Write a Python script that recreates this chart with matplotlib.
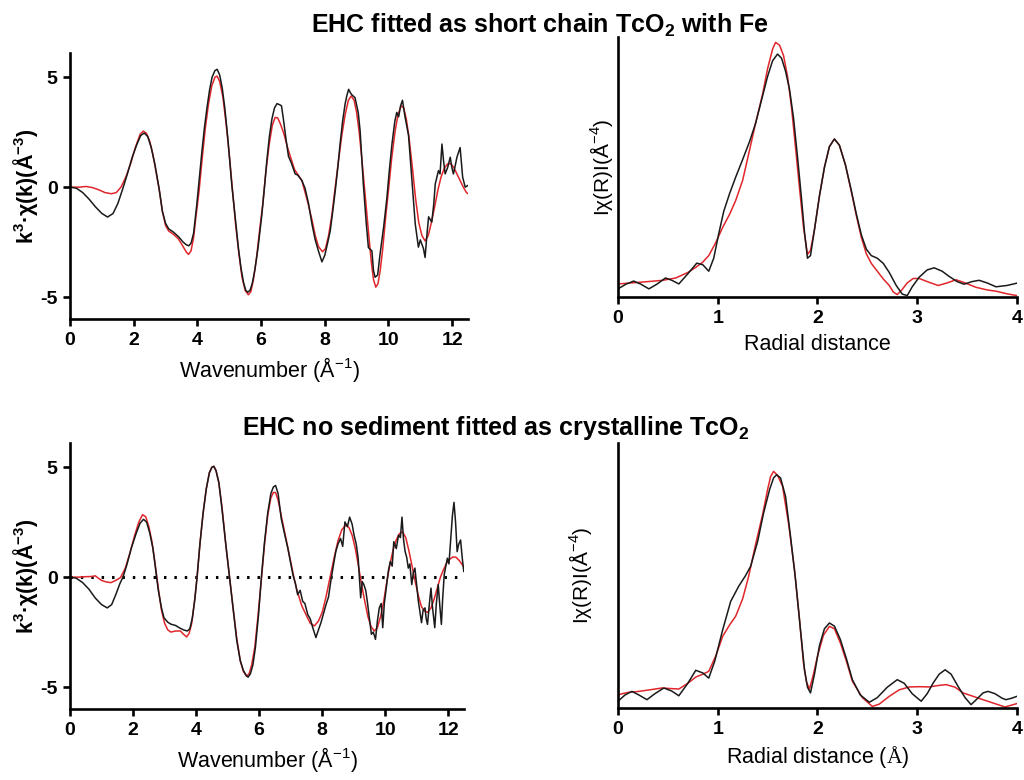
'''
EXAFS fits for EHC samples: k-space and Fourier transform panels.
'''

import matplotlib
matplotlib.use("Agg")
import matplotlib.pyplot as plt

plt.rcParams.update({
    "font.family": ["Liberation Sans", "DejaVu Sans"],
    "mathtext.fontset": "custom",
    "mathtext.rm": "Liberation Sans",
    "mathtext.bf": "Liberation Sans:bold",
    "mathtext.sf": "Liberation Serif",
    "axes.unicode_minus": False,
})

DATA_COLOR = "#1a1a1a"
FIT_COLOR = "#e0262b"

# --- top row: short chain TcO2 with Fe ---
K_TOP_DATA = [0, 0.2, 0.4, 0.6, 0.8, 1.0, 1.18, 1.35, 1.5, 1.65, 1.8, 1.95, 2.1, 2.22, 2.33, 2.44,
              2.55, 2.67, 2.8, 2.9, 3.0, 3.1, 3.25, 3.41, 3.55, 3.65, 3.73, 3.8, 3.88, 3.98, 4.06,
              4.14, 4.22, 4.3, 4.38, 4.46, 4.55, 4.62, 4.7, 4.78, 4.86, 4.95, 5.08, 5.18, 5.29,
              5.37, 5.45, 5.52, 5.58, 5.65, 5.72, 5.8, 5.9, 6.02, 6.1, 6.18, 6.26, 6.34, 6.42, 6.5,
              6.58, 6.64, 6.7, 6.78, 6.86, 6.95, 7.07, 7.15, 7.28, 7.38, 7.49, 7.6, 7.7, 7.8, 7.91,
              8.0, 8.08, 8.17, 8.25, 8.33, 8.41, 8.48, 8.56, 8.64, 8.7, 8.75, 8.8, 8.85, 8.95, 9.05,
              9.11, 9.21, 9.3, 9.37, 9.48, 9.53, 9.58, 9.66, 9.74, 9.85, 9.95, 10.03, 10.11, 10.2,
              10.26, 10.32, 10.38, 10.44, 10.52, 10.63, 10.73, 10.84, 10.94, 11.0, 11.05, 11.1,
              11.15, 11.2, 11.26, 11.36, 11.42, 11.47, 11.57, 11.62, 11.68, 11.73, 11.78, 11.86,
              11.94, 11.99, 12.04, 12.1, 12.15, 12.25, 12.33, 12.41, 12.5]
CHI_TOP_DATA = [0, -0.05, -0.25, -0.55, -0.9, -1.2, -1.36, -1.2, -0.75, -0.1, 0.6, 1.35, 1.95,
                2.35, 2.46, 2.3, 1.8, 1.0, -0.1, -1.1, -1.65, -1.9, -2.05, -2.26, -2.5, -2.62,
                -2.67, -2.55, -2.1, -0.8, 0.4, 1.6, 2.7, 3.6, 4.4, 5.0, 5.3, 5.36, 5.1, 4.5, 3.6,
                2.3, 0.1, -1.3, -2.8, -3.7, -4.35, -4.7, -4.78, -4.7, -4.4, -3.8, -2.8, -1.3, -0.1,
                1.2, 2.3, 3.1, 3.6, 3.8, 3.75, 3.7, 3.1, 2.2, 1.4, 1.1, 0.6, 0.55, 0.3, -0.05,
                -0.75, -1.7, -2.4, -2.9, -3.4, -3.1, -2.6, -2.0, -1.1, -0.15, 0.9, 1.96, 3.0, 3.8,
                4.2, 4.45, 4.3, 4.2, 4.07, 3.4, 2.56, 0.15, -1.6, -2.75, -2.9, -3.8, -4.1, -4.0,
                -3.0, -1.8, -0.5, 0.8, 1.96, 3.0, 3.4, 3.2, 3.7, 3.95, 3.2, 2.36, 0.45, -1.66,
                -2.73, -2.4, -2.6, -2.8, -3.2, -2.3, -1.35, -1.59, -0.8, 0.15, 0.75, 0.6, 1.96, 1.2,
                0.6, 0.9, 1.36, 0.9, 0.6, 1.0, 1.36, 1.8, 0.45, 0.0, 0.08]

K_TOP_FIT = [0, 0.3, 0.5, 0.7, 0.9, 1.1, 1.3, 1.45, 1.6, 1.75, 1.9, 2.05, 2.2, 2.3, 2.4, 2.5,
             2.6, 2.7, 2.8, 2.9, 3.0, 3.1, 3.25, 3.4, 3.55, 3.65, 3.72, 3.8, 3.88, 3.95, 4.05,
             4.15, 4.25, 4.35, 4.45, 4.55, 4.62, 4.7, 4.8, 4.9, 5.0, 5.1, 5.2, 5.3, 5.4, 5.5, 5.6,
             5.68, 5.76, 5.85, 5.95, 6.05, 6.15, 6.25, 6.35, 6.44, 6.52, 6.6, 6.7, 6.86, 7.05,
             7.28, 7.45, 7.6, 7.7, 7.8, 7.93, 8.02, 8.12, 8.22, 8.32, 8.43, 8.54, 8.64, 8.74,
             8.83, 8.92, 9.0, 9.08, 9.17, 9.27, 9.37, 9.46, 9.53, 9.6, 9.67, 9.74, 9.82, 9.91,
             10.0, 10.1, 10.21, 10.3, 10.4, 10.48, 10.56, 10.65, 10.75, 10.85, 10.95, 11.05,
             11.15, 11.25, 11.35, 11.45, 11.55, 11.65, 11.75, 11.85, 11.95, 12.05, 12.15, 12.25,
             12.35, 12.45, 12.5]
CHI_TOP_FIT = [0, 0.0, 0.03, -0.02, -0.12, -0.25, -0.3, -0.25, 0.0, 0.45, 1.05, 1.8, 2.4, 2.55,
               2.45, 2.1, 1.5, 0.7, -0.1, -1.1, -1.75, -2.0, -2.15, -2.35, -2.7, -2.95, -3.06,
               -2.9, -2.3, -1.4, -0.2, 1.3, 2.7, 3.8, 4.6, 5.0, 5.05, 4.8, 4.1, 2.9, 1.5, -0.1,
               -1.7, -3.0, -4.1, -4.7, -4.9, -4.75, -4.2, -3.3, -2.0, -0.8, 0.7, 1.9, 2.8, 3.17,
               3.15, 2.9, 2.5, 1.66, 0.8, 0.3, -0.6, -1.5, -2.2, -2.7, -2.94, -2.8, -2.2, -1.3,
               -0.1, 1.2, 2.4, 3.3, 3.95, 4.15, 3.95, 3.4, 2.5, 1.2, -0.4, -2.0, -3.4, -4.2, -4.55,
               -4.4, -3.8, -2.8, -1.4, -0.15, 1.3, 2.56, 3.3, 3.7, 3.6, 3.1, 2.2, 0.9, -0.5, -1.6,
               -2.2, -2.45, -2.2, -1.6, -0.9, -0.15, 0.45, 0.85, 1.05, 1.07, 0.9, 0.6, 0.3, 0.0,
               -0.25, -0.3]

R_TOP_DATA = [0, 0.08, 0.157, 0.23, 0.31, 0.39, 0.476, 0.54, 0.61, 0.7, 0.79, 0.85, 0.91, 0.96,
              1.01, 1.06, 1.12, 1.18, 1.25, 1.32, 1.38, 1.44, 1.5, 1.55, 1.6, 1.64, 1.68, 1.72,
              1.76, 1.8, 1.84, 1.87, 1.9, 1.93, 1.97, 2.02, 2.07, 2.12, 2.17, 2.22, 2.28, 2.34,
              2.39, 2.44, 2.49, 2.54, 2.6, 2.66, 2.72, 2.79, 2.85, 2.9, 2.95, 3.02, 3.1, 3.17,
              3.25, 3.32, 3.4, 3.47, 3.55, 3.62, 3.7, 3.79, 3.9, 4.0]
FT_TOP_DATA = [0.32, 0.5, 0.62, 0.5, 0.32, 0.5, 0.74, 0.65, 0.51, 0.9, 1.31, 1.25, 1.0, 1.5, 2.44,
               3.3, 4.0, 4.62, 5.3, 6.0, 6.7, 7.6, 8.5, 9.1, 9.36, 9.2, 8.7, 8.0, 6.9, 5.4, 3.8,
               2.5, 1.5, 1.6, 2.6, 3.9, 5.0, 5.8, 6.09, 5.85, 5.1, 4.1, 3.2, 2.4, 1.85, 1.6, 1.5,
               1.3, 0.95, 0.45, 0.12, 0.06, 0.4, 0.77, 1.05, 1.13, 1.0, 0.8, 0.6, 0.5, 0.6, 0.65,
               0.55, 0.4, 0.45, 0.54]

R_TOP_FIT = [0, 0.24, 0.45, 0.58, 0.7, 0.78, 0.85, 0.91, 0.98, 1.05, 1.12, 1.18, 1.25, 1.31,
             1.38, 1.45, 1.5, 1.55, 1.58, 1.62, 1.66, 1.7, 1.74, 1.78, 1.82, 1.86, 1.9, 1.93,
             1.97, 2.02, 2.07, 2.12, 2.17, 2.22, 2.28, 2.34, 2.39, 2.44, 2.49, 2.54, 2.6, 2.66,
             2.72, 2.76, 2.8, 2.85, 2.9, 2.96, 3.02, 3.1, 3.21, 3.3, 3.39, 3.48, 3.59, 3.7, 3.79,
             3.9, 4.0]
FT_TOP_FIT = [0.51, 0.58, 0.65, 0.74, 0.95, 1.15, 1.35, 1.6, 2.1, 2.69, 3.2, 3.72, 4.5, 5.51,
              6.7, 7.82, 8.8, 9.55, 9.81, 9.7, 9.3, 8.5, 7.3, 5.77, 4.2, 2.7, 1.65, 1.8, 2.6,
              3.9, 5.0, 5.8, 6.09, 5.85, 5.1, 4.05, 3.14, 2.3, 1.67, 1.3, 1.0, 0.7, 0.45, 0.2,
              0.1, 0.3, 0.55, 0.72, 0.72, 0.6, 0.45, 0.55, 0.67, 0.55, 0.38, 0.28, 0.23, 0.13,
              0.06]

# --- bottom row: no sediment, crystalline TcO2 ---
K_BOT_DATA = [0, 0.2, 0.4, 0.6, 0.8, 1.0, 1.18, 1.32, 1.45, 1.58, 1.68, 1.8, 1.95, 2.1, 2.22,
              2.33, 2.43, 2.53, 2.63, 2.72, 2.8, 2.9, 2.98, 3.1, 3.2, 3.35, 3.46, 3.6, 3.72, 3.8,
              3.88, 3.96, 4.03, 4.12, 4.22, 4.32, 4.42, 4.5, 4.56, 4.63, 4.72, 4.82, 4.94, 5.06,
              5.18, 5.29, 5.4, 5.5, 5.6, 5.65, 5.72, 5.8, 5.88, 5.98, 6.07, 6.17, 6.27, 6.37, 6.45,
              6.52, 6.6, 6.7, 6.8, 6.91, 7.07, 7.15, 7.22, 7.3, 7.38, 7.45, 7.54, 7.62, 7.7, 7.8,
              7.88, 7.96, 8.05, 8.12, 8.2, 8.27, 8.35, 8.43, 8.5, 8.58, 8.65, 8.72, 8.8, 8.87,
              8.95, 9.01, 9.08, 9.14, 9.22, 9.27, 9.32, 9.38, 9.43, 9.5, 9.56, 9.62, 9.69, 9.75,
              9.81, 9.87, 9.92, 9.97, 10.03, 10.1, 10.16, 10.22, 10.27, 10.35, 10.42, 10.48, 10.53,
              10.58, 10.63, 10.68, 10.73, 10.78, 10.84, 10.89, 10.94, 11.0, 11.05, 11.1, 11.15,
              11.2, 11.26, 11.3, 11.34, 11.4, 11.45, 11.5, 11.57, 11.62, 11.68, 11.73, 11.78,
              11.82, 11.87, 11.92, 11.97, 12.02, 12.07, 12.13, 12.18, 12.23, 12.28, 12.33, 12.39,
              12.44, 12.49]
CHI_BOT_DATA = [0, -0.05, -0.25, -0.55, -0.95, -1.25, -1.4, -1.25, -0.8, -0.3, 0.0, 0.55, 1.35,
                2.0, 2.45, 2.63, 2.5, 2.0, 1.3, 0.3, -0.6, -1.4, -1.85, -2.05, -2.14, -2.2, -2.3,
                -2.4, -2.45, -2.35, -1.85, -1.0, 0, 1.5, 2.9, 4.0, 4.75, 5.0, 5.04, 4.85, 4.3, 3.1,
                1.5, 0, -1.5, -2.9, -3.8, -4.25, -4.5, -4.55, -4.4, -4.0, -3.2, -1.7, 0, 1.6, 2.9,
                3.8, 4.1, 4.17, 3.8, 2.66, 2.0, 1.31, 0.11, -0.3, -0.8, -0.6, -1.1, -1.2, -1.7,
                -1.9, -2.3, -2.75, -2.4, -2.07, -1.6, -1.25, -0.9, -0.2, 0.5, 1.16, 1.5, 1.76, 1.4,
                2.51, 2.3, 2.73, 2.4, 1.91, 1.5, 0.86, -0.94, -0.2, -0.34, -0.6, -1.1, -1.9, -2.6,
                -2.5, -2.83, -2.0, -1.4, -1.2, -2.3, -1.2, -0.5, 0.3, 0.71, 0.5, 1.61, 1.3, 1.91,
                1.8, 2.73, 1.7, 1.16, 0.9, 0.41, 0.6, -0.34, 0.2, 0.41, -0.4, -1.1, -1.6, -2.07,
                -1.5, -1.4, -1.9, -2.15, -1.2, -0.5, -1.4, -2.3, -1.2, -0.34, -1.3, -2.15, -1.0,
                0.11, 0.5, 0.86, 0.6, 1.61, 2.8, 3.4, 2.5, 1.16, 1.5, 1.69, 0.9, 0.26]

K_BOT_FIT = [0, 0.3, 0.5, 0.7, 0.8, 0.9, 1.0, 1.15, 1.3, 1.45, 1.6, 1.75, 1.9, 2.05, 2.18, 2.3,
             2.4, 2.5, 2.6, 2.7, 2.8, 2.9, 3.0, 3.1, 3.2, 3.35, 3.5, 3.6, 3.7, 3.78, 3.86, 3.94,
             4.03, 4.12, 4.22, 4.32, 4.42, 4.5, 4.56, 4.63, 4.72, 4.82, 4.94, 5.06, 5.18, 5.29,
             5.4, 5.5, 5.6, 5.68, 5.76, 5.86, 5.96, 6.07, 6.17, 6.27, 6.37, 6.45, 6.52, 6.6, 6.7,
             6.8, 6.9, 7.0, 7.1, 7.2, 7.35, 7.5, 7.62, 7.75, 7.88, 8.0, 8.12, 8.25, 8.38, 8.5,
             8.62, 8.74, 8.85, 8.95, 9.05, 9.15, 9.25, 9.35, 9.45, 9.55, 9.65, 9.75, 9.85, 9.95,
             10.05, 10.15, 10.25, 10.35, 10.45, 10.55, 10.65, 10.75, 10.85, 10.95, 11.05, 11.15,
             11.25, 11.35, 11.45, 11.55, 11.65, 11.75, 11.85, 11.95, 12.05, 12.15, 12.25, 12.35,
             12.45, 12.5]
CHI_BOT_FIT = [0, 0.0, 0.02, 0.03, 0.06, -0.05, -0.15, -0.22, -0.25, -0.15, -0.02, 0.4, 1.1, 1.9,
               2.5, 2.84, 2.75, 2.3, 1.6, 0.6, -0.5, -1.5, -2.1, -2.4, -2.5, -2.45, -2.45, -2.6,
               -2.72, -2.55, -2.1, -1.2, 0.0, 1.5, 2.9, 4.0, 4.75, 5.0, 5.04, 4.85, 4.3, 3.2, 1.5,
               0.0, -1.5, -2.8, -3.8, -4.3, -4.5, -4.4, -4.0, -3.2, -1.8, -0.1, 1.5, 2.8, 3.6,
               3.85, 3.85, 3.5, 2.8, 2.1, 1.4, 0.7, 0.0, -0.6, -1.3, -1.75, -2.1, -2.22, -2.0,
               -1.6, -0.9, 0.0, 0.9, 1.65, 2.15, 2.36, 2.25, 1.9, 1.3, 0.5, -0.35, -1.1, -1.8,
               -2.25, -2.45, -2.3, -1.8, -1.1, -0.2, 0.6, 1.25, 1.7, 1.98, 2.06, 1.8, 1.2, 0.5,
               -0.2, -0.85, -1.35, -1.55, -1.6, -1.4, -1.0, -0.5, 0.0, 0.35, 0.65, 0.82, 0.92,
               0.9, 0.75, 0.55, 0.45]

R_BOT_DATA = [0, 0.07, 0.14, 0.21, 0.29, 0.37, 0.46, 0.54, 0.61, 0.7, 0.78, 0.85, 0.91, 0.97,
              1.05, 1.13, 1.21, 1.28, 1.33, 1.4, 1.46, 1.52, 1.56, 1.59, 1.63, 1.68, 1.73, 1.78,
              1.83, 1.87, 1.9, 1.93, 1.97, 2.02, 2.07, 2.12, 2.17, 2.23, 2.29, 2.35, 2.43, 2.52,
              2.6, 2.7, 2.8, 2.87, 2.95, 3.04, 3.1, 3.16, 3.22, 3.28, 3.34, 3.41, 3.48, 3.54,
              3.6, 3.66, 3.71, 3.78, 3.85, 3.89, 3.95, 4.0]
FT_BOT_DATA = [0.26, 0.5, 0.64, 0.5, 0.32, 0.55, 0.77, 0.65, 0.47, 0.95, 1.45, 1.35, 1.15, 1.8,
               3.01, 4.1, 4.68, 5.1, 5.45, 6.4, 7.5, 8.4, 8.85, 8.97, 8.85, 8.14, 6.6, 4.94, 3.0,
               1.47, 0.8, 0.58, 1.3, 2.4, 3.05, 3.27, 3.15, 2.63, 1.9, 1.09, 0.5, 0.22, 0.4, 0.8,
               1.09, 0.95, 0.55, 0.26, 0.55, 0.96, 1.3, 1.47, 1.3, 0.83, 0.4, 0.13, 0.35, 0.58,
               0.64, 0.55, 0.38, 0.32, 0.38, 0.45]

R_BOT_FIT = [0, 0.1, 0.21, 0.32, 0.44, 0.52, 0.61, 0.7, 0.78, 0.85, 0.91, 0.98, 1.05, 1.12,
             1.18, 1.25, 1.31, 1.38, 1.45, 1.5, 1.53, 1.56, 1.6, 1.65, 1.71, 1.77, 1.82, 1.86,
             1.89, 1.92, 1.96, 2.0, 2.06, 2.12, 2.17, 2.23, 2.29, 2.35, 2.45, 2.55, 2.62, 2.72,
             2.82, 2.92, 3.02, 3.12, 3.2, 3.29, 3.38, 3.46, 3.56, 3.66, 3.77, 3.88, 4.0]
FT_BOT_FIT = [0.51, 0.6, 0.64, 0.7, 0.77, 0.75, 0.73, 0.95, 1.19, 1.3, 1.41, 2.0, 2.76, 3.2,
              3.53, 4.2, 5.06, 6.3, 7.44, 8.4, 8.9, 9.1, 8.95, 8.53, 7.1, 5.32, 3.4, 1.73, 1.0,
              0.73, 1.3, 1.99, 2.8, 3.14, 3.05, 2.5, 1.8, 1.03, 0.4, 0.06, 0.15, 0.45, 0.7, 0.81,
              0.82, 0.81, 0.86, 0.9, 0.8, 0.58, 0.45, 0.32, 0.18, 0.04, 0.17]

K_TICKS = [0, 2, 4, 6, 8, 10, 12]
CHI_TICKS = [-5, 0, 5]
R_TICKS = [0, 1, 2, 3, 4]

TITLE_TOP = r"EHC fitted as short chain TcO$_{\mathbf{2}}$ with Fe"
TITLE_BOT = r"EHC no sediment fitted as crystalline TcO$_{\mathbf{2}}$"
CHI_LABEL = r"k$^{\mathbf{3}}$·χ(k)(Å$^{\mathbf{-3}}$)"
FT_LABEL = r"Iχ(R)I(Å$^{-4}$)"
K_LABEL = r"Wavenumber (Å$^{-1}$)"


def style_axes(ax):
    for side in ("top", "right"):
        ax.spines[side].set_visible(False)
    for side in ("left", "bottom"):
        ax.spines[side].set_linewidth(1.9)
    ax.tick_params(width=1.9, length=5, labelsize=14, pad=4)
    for lab in ax.get_xticklabels() + ax.get_yticklabels():
        lab.set_fontweight("bold")


def k_panel(ax, k_data, chi_data, k_fit, chi_fit, zero_line=False):
    if zero_line:
        ax.plot([0, 12.5], [0, 0], color="black", lw=2.2, linestyle=(0, (0.8, 2.6)))
    ax.plot(k_fit, chi_fit, color=FIT_COLOR, lw=1.1)
    ax.plot(k_data, chi_data, color=DATA_COLOR, lw=1.1)
    ax.set_xlim(0, 12.5)
    ax.set_ylim(-6, 6.1)
    ax.set_xticks(K_TICKS)
    ax.set_yticks(CHI_TICKS)
    ax.set_xlabel(K_LABEL, fontsize=15.5, labelpad=5)
    ax.set_ylabel(CHI_LABEL, fontsize=15.5, fontweight="bold", labelpad=0)
    style_axes(ax)


def r_panel(ax, r_data, ft_data, r_fit, ft_fit, xlabel, top, labelpad):
    ax.plot(r_fit, ft_fit, color=FIT_COLOR, lw=1.1)
    ax.plot(r_data, ft_data, color=DATA_COLOR, lw=1.1)
    ax.set_xlim(0, 4)
    ax.set_ylim(0, top)
    ax.set_xticks(R_TICKS)
    ax.set_yticks([])
    ax.set_xlabel(xlabel, fontsize=15.5, labelpad=5)
    ax.set_ylabel(FT_LABEL, fontsize=15, labelpad=labelpad)
    style_axes(ax)


def main():
    fig = plt.figure(figsize=(10.24, 7.8), dpi=100)

    ax1 = fig.add_axes([0.0684, 0.591, 0.3887, 0.341])
    k_panel(ax1, K_TOP_DATA, CHI_TOP_DATA, K_TOP_FIT, CHI_TOP_FIT)

    ax2 = fig.add_axes([0.6035, 0.619, 0.3896, 0.333])
    r_panel(ax2, R_TOP_DATA, FT_TOP_DATA, R_TOP_FIT, FT_TOP_FIT,
            "Radial distance", 10.0, 2)

    ax3 = fig.add_axes([0.0684, 0.091, 0.3848, 0.341])
    k_panel(ax3, K_BOT_DATA, CHI_BOT_DATA, K_BOT_FIT, CHI_BOT_FIT, zero_line=True)

    ax4 = fig.add_axes([0.6035, 0.0923, 0.3896, 0.340])
    r_panel(ax4, R_BOT_DATA, FT_BOT_DATA, R_BOT_FIT, FT_BOT_FIT,
            r"Radial distance ($\mathsf{Å}$)", 10.2, 17)

    fig.text(0.527, 0.967, TITLE_TOP, ha="center", va="center",
             fontsize=18, fontweight="bold")
    fig.text(0.484, 0.451, TITLE_BOT, ha="center", va="center",
             fontsize=18, fontweight="bold")

    fig.savefig("out.png", dpi=100)


if __name__ == "__main__":
    main()
